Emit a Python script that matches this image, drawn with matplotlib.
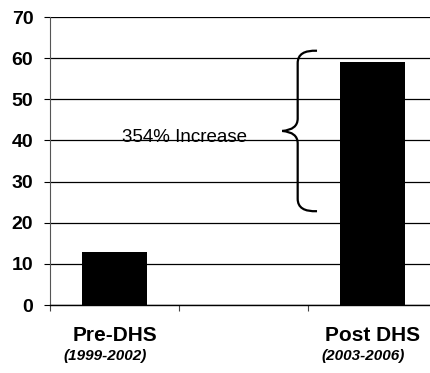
import matplotlib
matplotlib.use("Agg")
import matplotlib.pyplot as plt
from matplotlib.path import Path
from matplotlib.patches import PathPatch

# Chart data
categories = ["Pre-DHS", "", "Post DHS"]
periods = ["(1999-2002)", "", "(2003-2006)"]
values = [13, None, 59]
y_ticks = [0, 10, 20, 30, 40, 50, 60, 70]
note = "354% Increase"

plt.rcParams['font.family'] = ['Liberation Sans', 'DejaVu Sans']

fig = plt.figure(figsize=(4.30, 3.73), dpi=100)
ax = fig.add_axes([50 / 430, 68 / 373, 387 / 430, 288 / 373])

# bars (skip the empty middle category)
for i, v in enumerate(values):
    if v is not None:
        ax.bar(i, v, width=0.5, color="black", zorder=3)

ax.set_xlim(-0.5, 2.5)
ax.set_ylim(0, 70)
ax.set_yticks(y_ticks)
ax.set_yticklabels([str(t) for t in y_ticks], fontsize=14, fontweight="bold")
ax.set_xticks([-0.5, 0.5, 1.5])
ax.set_xticklabels([])
ax.tick_params(axis="x", direction="out", length=4, width=0.8, color="#444444")
ax.tick_params(axis="y", direction="out", length=4, width=0.8, pad=8)

ax.yaxis.grid(True, color="black", linewidth=0.9, zorder=0)
ax.set_axisbelow(True)
for side in ["top", "right"]:
    ax.spines[side].set_visible(False)
ax.spines["left"].set_color("#555555")
ax.spines["bottom"].set_linewidth(1.0)

# category labels below the axis
for i, (name, per) in enumerate(zip(categories, periods)):
    if name:
        ax.text(i, -7.3, name, ha="center", va="center", fontsize=15,
                fontweight="bold", clip_on=False)
        ax.text(i - 0.07, -12.3, per, ha="center", va="center", fontsize=11,
                fontweight="bold", style="italic", clip_on=False)

# curly brace spanning the increase
xt, xm, xe = 1.30, 1.42, 1.57
y0, ymid, y1 = 22.8, 42.3, 61.8
codes = [Path.MOVETO,
         Path.CURVE3, Path.CURVE3,
         Path.LINETO,
         Path.CURVE3, Path.CURVE3,
         Path.CURVE3, Path.CURVE3,
         Path.LINETO,
         Path.CURVE3, Path.CURVE3]
verts = [
    (xe, y1),
    (xm, y1 + 0.2), (xm, y1 - 3.0),
    (xm, ymid + 3.0),
    (xm, ymid + 0.3), (xt, ymid),
    (xm, ymid - 0.3), (xm, ymid - 3.0),
    (xm, y0 + 3.0),
    (xm, y0 - 0.2), (xe, y0),
]
ax.add_patch(PathPatch(Path(verts, codes), facecolor="none",
                       edgecolor="black", linewidth=1.6, zorder=4))

ax.text(0.54, 40.6, note, ha="center", va="center", fontsize=13.5, zorder=4)

fig.savefig("out.png", dpi=100)
